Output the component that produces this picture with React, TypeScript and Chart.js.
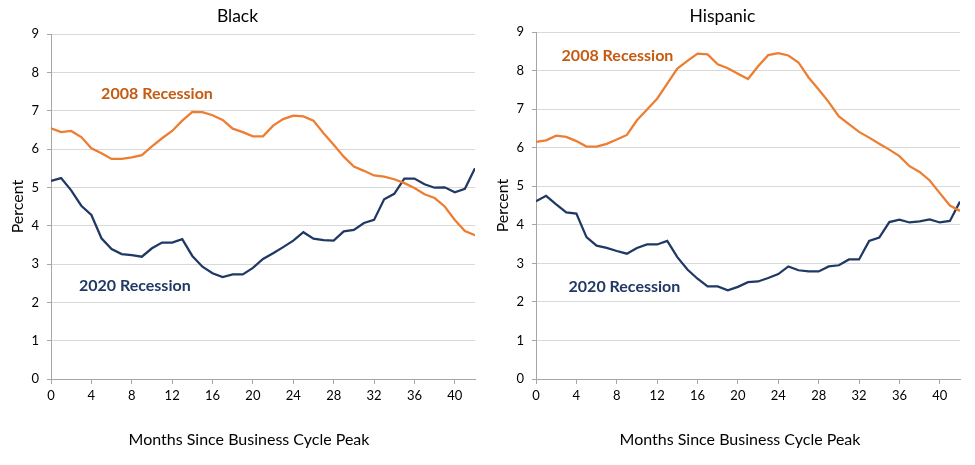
import React, { useEffect, useRef } from "react";
import { Chart, registerables } from "chart.js";

Chart.register(...registerables);

const months = [0, 1, 2, 3, 4, 5, 6, 7, 8, 9, 10, 11, 12, 13, 14, 15, 16, 17, 18, 19, 20, 21, 22, 23, 24, 25, 26, 27, 28, 29, 30, 31, 32, 33, 34, 35, 36, 37, 38, 39, 40, 41, 42];
const xTickValues = [0, 4, 8, 12, 16, 20, 24, 28, 32, 36, 40];

const black2008 = [6.54, 6.44, 6.47, 6.31, 6.02, 5.89, 5.74, 5.74, 5.78, 5.84, 6.07, 6.28, 6.47, 6.74, 6.97, 6.96, 6.88, 6.76, 6.53, 6.44, 6.33, 6.33, 6.61, 6.78, 6.87, 6.85, 6.74, 6.41, 6.11, 5.8, 5.54, 5.43, 5.31, 5.28, 5.21, 5.11, 4.98, 4.82, 4.72, 4.5, 4.15, 3.86, 3.75];
const black2020 = [5.17, 5.24, 4.92, 4.52, 4.28, 3.67, 3.39, 3.26, 3.23, 3.19, 3.41, 3.56, 3.56, 3.65, 3.21, 2.93, 2.76, 2.66, 2.73, 2.73, 2.9, 3.13, 3.28, 3.44, 3.61, 3.83, 3.66, 3.62, 3.61, 3.85, 3.89, 4.07, 4.15, 4.69, 4.83, 5.23, 5.23, 5.08, 4.99, 5.0, 4.87, 4.96, 5.5];
const hisp2008 = [6.15, 6.19, 6.31, 6.28, 6.17, 6.03, 6.03, 6.1, 6.21, 6.33, 6.71, 6.99, 7.27, 7.66, 8.05, 8.25, 8.44, 8.42, 8.16, 8.06, 7.92, 7.78, 8.11, 8.4, 8.45, 8.39, 8.21, 7.82, 7.51, 7.18, 6.81, 6.61, 6.41, 6.26, 6.1, 5.95, 5.78, 5.52, 5.37, 5.15, 4.82, 4.5, 4.36];
const hisp2020 = [4.61, 4.75, 4.53, 4.32, 4.29, 3.68, 3.46, 3.4, 3.32, 3.25, 3.4, 3.49, 3.49, 3.58, 3.16, 2.84, 2.6, 2.4, 2.4, 2.3, 2.39, 2.51, 2.53, 2.62, 2.72, 2.92, 2.82, 2.79, 2.79, 2.92, 2.95, 3.1, 3.1, 3.58, 3.67, 4.07, 4.13, 4.06, 4.09, 4.14, 4.06, 4.1, 4.6];

const panelTitles = ["Black", "Hispanic"];
const seriesNames = ["2008 Recession", "2020 Recession"];
const xAxisTitle = "Months Since Business Cycle Peak";
const yAxisTitle = "Percent";

const FONT = "Lato, 'Open Sans', sans-serif";
const ORANGE = "#ED7D31";
const ORANGE_TEXT = "#C55A11";
const NAVY = "#1F3864";
const AXIS = "#A6A6A6";
const GRID = "#D9D9D9";

type Label = { text: string; x: number; y: number; color: string };

function makeTextPlugin(labels: Label[], xShift: number) {
  return {
    id: "panelText",
    afterDatasetsDraw(chart: any) {
      const { ctx, chartArea, scales } = chart;
      ctx.save();
      ctx.textAlign = "center";
      ctx.textBaseline = "middle";
      ctx.font = `bold 16px ${FONT}`;
      labels.forEach((l) => {
        ctx.fillStyle = l.color;
        ctx.fillText(l.text, scales.x.getPixelForValue(l.x), scales.y.getPixelForValue(l.y));
      });
      ctx.font = `16px ${FONT}`;
      ctx.fillStyle = "#000";
      ctx.fillText(xAxisTitle, (chartArea.left + chartArea.right) / 2 + xShift, chart.height - 25);
      ctx.restore();
    },
  };
}

function Panel(props: {
  title: string;
  s2008: number[];
  s2020: number[];
  labels: Label[];
  left: number;
  width: number;
  padRight: number;
  titleTop: number;
  titleBottom: number;
  xShift: number;
}) {
  const ref = useRef<HTMLCanvasElement>(null);
  useEffect(() => {
    if (!ref.current) return;
    const chart = new Chart(ref.current, {
      type: "line",
      data: {
        datasets: [
          {
            label: seriesNames[0],
            data: months.map((m, i) => ({ x: m, y: props.s2008[i] })),
            borderColor: ORANGE,
            backgroundColor: ORANGE,
            borderWidth: 2.25,
            pointRadius: 0,
            tension: 0,
          },
          {
            label: seriesNames[1],
            data: months.map((m, i) => ({ x: m, y: props.s2020[i] })),
            borderColor: NAVY,
            backgroundColor: NAVY,
            borderWidth: 2.25,
            pointRadius: 0,
            tension: 0,
          },
        ],
      },
      options: {
        responsive: false,
        animation: false,
        layout: { padding: { left: 0, right: props.padRight, top: 0, bottom: 0 } },
        plugins: {
          legend: { display: false },
          tooltip: { enabled: false },
          title: {
            display: true,
            text: props.title,
            color: "#000",
            font: { family: FONT, size: 17.5, weight: "normal" as any, lineHeight: 1.2 },
            padding: { top: props.titleTop, bottom: props.titleBottom },
          },
        },
        scales: {
          x: {
            type: "linear",
            min: 0,
            max: 42,
            afterBuildTicks: (scale: any) => {
              scale.ticks = xTickValues.map((v) => ({ value: v }));
            },
            afterFit: (scale: any) => {
              scale.height = 86;
            },
            ticks: {
              color: "#000",
              font: { family: FONT, size: 13 },
              padding: 4,
              maxRotation: 0,
              autoSkip: false,
            },
            grid: {
              drawOnChartArea: false,
              drawTicks: true,
              tickLength: 5,
              tickColor: AXIS,
            },
            border: { display: true, color: AXIS, width: 1 },
          },
          y: {
            min: 0,
            max: 9,
            afterFit: (scale: any) => {
              scale.width = 51;
            },
            ticks: {
              stepSize: 1,
              color: "#000",
              font: { family: FONT, size: 13 },
              padding: 8,
            },
            grid: {
              color: GRID,
              lineWidth: 1,
              tickLength: 4,
              tickColor: AXIS,
            },
            border: { display: true, color: AXIS, width: 1 },
            title: {
              display: true,
              text: yAxisTitle,
              color: "#000",
              font: { family: FONT, size: 16 },
              padding: { top: 8, bottom: 0 },
            },
          },
        },
      },
      plugins: [makeTextPlugin(props.labels, props.xShift)],
    });
    return () => chart.destroy();
  }, []);
  return (
    <canvas
      ref={ref}
      width={props.width}
      height={465}
      style={{ position: "absolute", left: props.left, top: 0, width: props.width, height: 465 }}
    />
  );
}

export default function App() {
  return (
    <div style={{ position: "absolute", left: 0, top: 0, width: 975, height: 465, background: "#fff" }}>
      <Panel
        title={panelTitles[0]}
        s2008={black2008}
        s2020={black2020}
        labels={[
          { text: seriesNames[0], x: 10.5, y: 7.44, color: ORANGE_TEXT },
          { text: seriesNames[1], x: 8.3, y: 2.43, color: NAVY },
        ]}
        left={0}
        width={485}
        padRight={10}
        titleTop={6}
        titleBottom={7}
        xShift={-14}
      />
      <Panel
        title={panelTitles[1]}
        s2008={hisp2008}
        s2020={hisp2020}
        labels={[
          { text: seriesNames[0], x: 8.07, y: 8.39, color: ORANGE_TEXT },
          { text: seriesNames[1], x: 8.76, y: 2.4, color: NAVY },
        ]}
        left={485}
        width={490}
        padRight={15}
        titleTop={6}
        titleBottom={5}
        xShift={-8}
      />
    </div>
  );
}
